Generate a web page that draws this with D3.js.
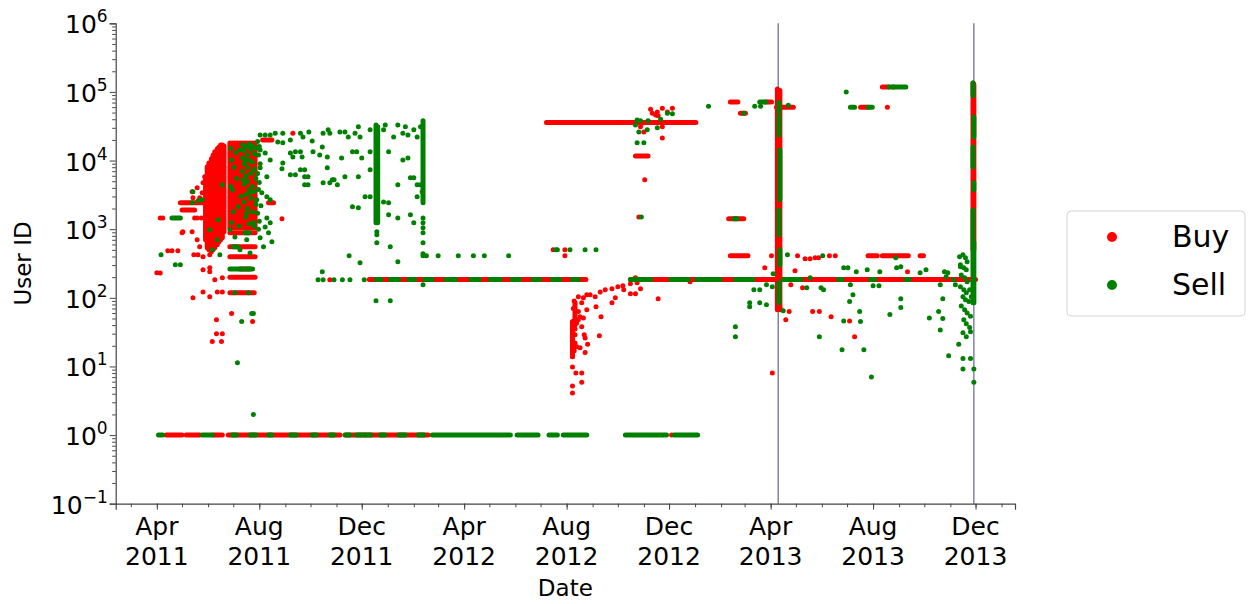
<!DOCTYPE html>
<html>
<head>
<meta charset="utf-8">
<script src="https://cdn.jsdelivr.net/npm/d3@7"></script>
<style>
  body { margin: 0; background: #fff; }
  svg { display: block; font-family: "DejaVu Sans", sans-serif; }
</style>
</head>
<body>
<div id="chart"></div>
<script>
// ---- data ----
const xDomain = ["2011-02-11", "2014-01-17"];
const yDomain = [0.1, 1e6];
const majorTicks = ["2011-04-01", "2011-08-01", "2011-12-01", "2012-04-01", "2012-08-01",
                    "2012-12-01", "2013-04-01", "2013-08-01", "2013-12-01"];
const tickMonths = ["Apr", "Aug", "Dec", "Apr", "Aug", "Dec", "Apr", "Aug", "Dec"];
const tickYears = ["2011", "2011", "2011", "2012", "2012", "2012", "2013", "2013", "2013"];
const yPowers = [-1, 0, 1, 2, 3, 4, 5, 6];
const eventDates = ["2013-04-10", "2013-11-29"];
const seriesNames = ["Buy", "Sell"];

// single trades [date, user id]
const buyPoints = [
  ["2011-04-01",232],["2011-04-05",230],["2011-04-05",1460],["2011-04-08",1460],
  ["2011-04-14",485],["2011-04-19",485],["2011-04-26",485],
  ["2011-05-01",886],["2011-05-02",916],["2011-05-13",916],
  ["2011-05-13",3500],["2011-05-19",4000],["2011-05-25",3390],["2011-05-26",4730],["2011-05-14",2860],
  ["2011-05-22",2860],["2011-05-28",5790],["2011-05-16",1460],["2011-05-19",1460],["2011-05-24",1460],
  ["2011-05-19",700],["2011-05-22",554],["2011-05-20",424],["2011-05-26",396],["2011-05-15",424],["2011-06-03",424],
  ["2011-05-26",256],["2011-06-03",240],["2011-06-03",274],["2011-06-09",183],["2011-06-18",196],
  ["2011-05-14",100],["2011-05-26",122],["2011-06-03",104],["2011-06-12",122],["2011-06-18",122],
  ["2011-06-11",48],["2011-06-11",30],["2011-06-18",30],["2011-06-06",23],["2011-06-17",23],
  ["2011-06-29",59],["2011-07-24",45],["2011-08-28",1420],["2011-09-10",25000],["2011-10-24",183],
  ["2012-07-16",501],["2012-07-30",501],["2012-07-30",410],
  ["2012-08-11",85],["2012-08-15",104],["2012-08-21",100],["2012-08-25",111],["2012-08-29",111],
  ["2012-09-04",104],["2012-09-10",122],["2012-09-16",131],["2012-09-24",135],["2012-10-01",145],
  ["2012-10-07",150],["2012-10-16",160],["2012-10-24",166],["2012-10-28",135],["2012-10-22",115],
  ["2012-10-16",115],["2012-10-08",131],["2012-09-28",100],["2012-09-24",85],["2012-09-05",74],
  ["2012-09-11",53],["2012-09-09",28],["2012-08-25",67],["2012-08-19",85],["2012-08-21",51],
  ["2012-08-19",38],["2012-08-22",29],["2012-08-23",26],["2012-08-26",21],["2012-08-23",15.9],
  ["2012-08-19",8.0],["2012-08-19",5.9],["2012-08-17",18.8],["2012-08-13",19.4],["2012-08-11",22],
  ["2012-08-08",13.9],["2012-08-08",9.8],["2012-08-08",5.2],["2012-08-08",4.1],["2012-08-12",8.0],
  ["2012-08-11",29],["2012-08-11",35],["2012-08-13",43],["2012-08-15",48],["2012-08-17",53],["2012-08-15",63],
  ["2012-08-09",70],["2012-08-10",90],["2012-08-09",30],["2012-08-10",17],
  ["2012-11-18",97],["2012-12-26",171],["2012-10-22",196],
  ["2012-11-09",56000],["2012-11-11",49000],["2012-11-15",46000],["2012-11-17",51000],["2012-11-18",45000],
  ["2012-11-23",58000],["2012-12-05",58000],["2012-11-29",51000],["2012-11-23",31000],["2012-11-23",21400],
  ["2012-10-30",35000],["2012-10-28",31000],["2012-11-01",26000],["2012-11-02",5240],["2012-10-26",1510],
  ["2013-04-02",410],["2013-05-03",410],["2013-05-12",371],["2013-05-18",371],["2013-05-24",383],
  ["2013-05-28",383],["2013-06-10",410],["2013-06-17",410],
  ["2013-03-25",274],["2013-04-30",248],["2013-09-11",240],["2013-04-09",283],["2013-04-25",155],
  ["2013-05-09",140],["2013-05-21",63],["2013-05-29",63],["2013-06-12",53],["2013-04-19",48],
  ["2013-04-23",63],["2013-04-12",72],["2013-04-03",8.0],["2013-07-04",46],["2013-07-10",27],
  ["2013-08-18",60000],["2013-08-25",118000]
];

const sellPoints = [
  ["2011-04-23",303],["2011-04-29",303],["2011-04-06",424],["2011-05-14",3500],["2011-05-13",2420],
  ["2011-05-25",2680],["2011-05-20",2600],["2011-06-18",4430],["2011-06-13",1370],["2011-06-03",980],
  ["2011-06-12",700],["2011-06-06",501],["2011-06-15",424],["2011-07-06",11.3],["2011-07-25",2.0],
  ["2011-07-11",45],["2011-07-23",59],["2011-07-25",59],
  ["2011-06-29",10200],["2011-07-09",14300],["2011-07-15",10200],["2011-07-21",15800],["2011-07-25",7320],
  ["2011-07-13",5240],["2011-06-30",3740],["2011-07-21",3390],["2011-07-07",2120],["2011-07-17",1720],
  ["2011-06-29",1240],["2011-07-25",1240],["2011-07-03",770],["2011-07-17",701],["2011-07-09",501],
  ["2011-07-21",450],["2011-06-27",980],["2011-07-29",2680],["2011-07-03",119],["2011-07-19",119],
  ["2011-06-28",15000],["2011-07-02",8000],["2011-07-05",5500],["2011-07-01",1800],["2011-07-08",1100],
  ["2011-07-04",13000],["2011-07-10",3000],["2011-06-28",4200],
  ["2011-07-12",17000],["2011-07-12",11000],["2011-07-12",7000],
  ["2011-07-14",14000],["2011-07-14",9000],["2011-07-14",4500],["2011-07-14",2500],
  ["2011-07-16",16000],["2011-07-16",6000],["2011-07-16",3200],["2011-07-16",1500],
  ["2011-07-18",12000],["2011-07-18",8000],["2011-07-18",5000],["2011-07-18",2000],
  ["2011-07-20",17500],["2011-07-20",10000],["2011-07-20",3800],["2011-07-20",1200],
  ["2011-07-22",14500],["2011-07-22",6500],["2011-07-22",2800],
  ["2011-07-24",16500],["2011-07-24",9500],["2011-07-24",4200],["2011-07-24",1800],
  ["2011-07-26",12500],["2011-07-26",7500],["2011-07-26",3500],["2011-07-26",1100],
  ["2011-07-28",15000],["2011-07-28",5500],["2011-07-28",2300],
  ["2011-07-30",19000],["2011-08-01",16000],["2011-07-31",12000],["2011-08-02",9000],["2011-07-30",6500],
  ["2011-08-01",4800],["2011-07-31",3800],["2011-08-03",2200],["2011-07-30",1700],["2011-08-01",1300],
  ["2011-07-31",1000],["2011-08-02",750],
  ["2011-08-02",23600],["2011-08-08",23600],["2011-08-14",23600],["2011-08-20",25000],["2011-08-29",25000],
  ["2011-08-23",18700],["2011-08-29",18100],["2011-09-07",20000],["2011-09-19",25000],["2011-09-22",22000],
  ["2011-09-29",26000],["2011-10-03",19300],["2011-10-16",25000],["2011-10-22",28000],["2011-10-24",25000],
  ["2011-11-05",26000],["2011-11-11",26000],["2011-11-15",22000],["2011-11-23",25000],["2011-11-27",31000],
  ["2011-11-29",22000],["2011-12-11",28000],["2011-12-27",28000],["2011-12-29",33000],["2012-01-08",22000],
  ["2012-01-13",33000],["2012-01-19",25000],["2012-01-22",31000],["2012-01-25",23600],["2012-02-01",28000],
  ["2012-02-05",22000],["2012-02-09",31000],
  ["2011-08-02",14300],["2011-08-08",12900],["2011-08-14",10200],["2011-08-02",7830],["2011-08-10",5790],
  ["2011-08-04",3390],["2011-08-10",2960],["2011-08-14",2680],["2011-08-10",1460],["2011-08-14",1240],
  ["2011-08-08",1080],["2011-08-12",886],["2011-08-06",554],["2011-08-16",655],
  ["2011-08-29",9250],["2011-08-28",7570],["2011-09-07",12900],["2011-09-13",13400],["2011-09-19",13400],
  ["2011-09-10",11300],["2011-09-21",11300],["2011-09-07",6190],["2011-09-13",6190],["2011-09-19",7320],
  ["2011-09-24",7320],["2011-09-24",5790],["2011-09-28",5790],["2011-09-24",4430],["2011-09-28",4430],
  ["2011-10-04",13400],["2011-10-12",12100],["2011-10-15",15800],["2011-10-21",11300],["2011-10-21",7830],
  ["2011-10-27",5240],["2011-10-16",4730],["2011-10-24",4730],["2011-11-02",4430],["2011-11-07",10900],
  ["2011-11-11",5790],["2011-11-20",13400],["2011-11-25",13400],["2011-11-27",5790],["2011-11-20",2120],
  ["2011-11-27",2050],["2011-12-05",2960],["2011-12-11",2960],["2011-12-11",7320],["2011-12-11",13400],
  ["2011-12-27",2500],["2012-01-02",2420],["2012-01-02",1620],["2012-01-13",1460],["2012-01-28",1620],
  ["2012-02-01",1240],["2012-01-19",10200],["2012-01-25",10900],["2012-01-28",5600],["2012-02-01",5600],
  ["2012-02-05",4430],["2012-02-09",4430],["2012-01-13",4430],["2012-02-05",2960],["2012-02-11",3500],
  ["2012-01-02",13400],["2012-01-04",554],["2011-10-29",5240],["2011-12-01",10900],
  ["2011-11-16",410],["2011-11-29",324],["2012-01-13",335],["2011-12-18",91],["2012-01-04",91],
  ["2011-10-10",183],["2011-10-16",183],["2011-10-15",240],["2011-10-29",183],["2011-11-08",183],
  ["2011-11-17",183],["2011-12-04",183],
  ["2011-12-19",916],["2011-12-19",828],["2011-12-19",634],
  ["2012-02-12",1460],["2012-02-12",1240],["2012-02-12",1050],["2012-02-12",886],["2012-02-12",634],
  ["2012-02-12",438],["2012-02-12",155],
  ["2012-02-12",410],["2012-02-16",410],["2012-03-01",410],["2012-03-25",410],["2012-04-12",410],
  ["2012-04-25",410],["2012-05-24",410],
  ["2012-07-19",501],["2012-07-21",501],["2012-08-05",501],["2012-08-23",501],["2012-09-05",501],
  ["2012-10-24",39000],["2012-10-28",38000],["2012-10-22",33000],["2012-10-26",26000],["2012-11-05",28000],
  ["2012-11-06",38000],["2012-11-17",30000],["2012-11-21",40000],["2012-11-29",49000],["2012-12-05",48000],
  ["2013-01-17",62000],["2012-10-24",18100],["2012-11-01",18100],["2012-10-29",1510],
  ["2013-02-28",49000],["2013-03-13",62000],["2013-03-20",62000],["2013-04-22",64000],["2013-06-30",100000],
  ["2013-04-21",424],["2013-06-02",410],["2013-06-27",274],["2013-07-02",274],["2013-07-12",240],
  ["2013-07-25",256],["2013-08-09",240],["2013-08-28",383],["2013-08-29",274],["2013-09-03",283],
  ["2013-09-26",232],["2013-10-03",256],["2013-03-12",131],["2013-03-19",131],["2013-03-07",85],
  ["2013-03-07",74],["2013-03-19",85],["2013-03-27",79],["2013-03-27",155],["2013-04-04",224],
  ["2013-04-03",145],["2013-05-14",140],["2013-05-18",196],["2013-05-31",140],["2013-06-03",131],
  ["2013-05-29",27],["2013-04-16",65],["2013-02-18",38],["2013-02-18",27],["2013-06-25",17.5],
  ["2013-06-27",46],["2013-07-05",155],["2013-07-08",111],["2013-07-04",88],["2013-07-16",63],
  ["2013-07-17",45],["2013-07-21",17.5],["2013-07-30",7.0],["2013-08-01",150],["2013-08-08",150],
  ["2013-08-21",57],["2013-09-03",97],["2013-09-03",72],["2013-10-07",51],["2013-10-18",63],
  ["2013-10-20",34],["2013-10-23",50],["2013-10-23",97],["2013-10-20",155],["2013-10-30",14.3],
  ["2013-11-11",21],["2013-11-16",13.0],["2013-11-16",9.2],["2013-11-25",13.0],["2013-11-29",9.2],
  ["2013-11-29",5.9],["2013-10-25",240],["2013-10-29",232],["2013-10-27",203],["2013-11-05",183],
  ["2013-11-07",155],["2013-11-13",283],
  ["2013-11-12",396],["2013-11-16",424],["2013-11-19",383],["2013-11-21",335],["2013-11-13",303],
  ["2013-11-17",274],["2013-11-20",256],["2013-11-14",215],["2013-11-18",196],["2013-11-21",171],
  ["2013-11-13",145],["2013-11-17",131],["2013-11-20",119],["2013-11-24",131],["2013-11-16",104],
  ["2013-11-19",94],["2013-11-23",88],["2013-11-26",104],["2013-11-14",76],["2013-11-18",67],
  ["2013-11-21",60],["2013-11-25",54],["2013-11-17",48],["2013-11-20",42],["2013-11-24",37],
  ["2013-11-16",31],["2013-11-20",27],["2013-11-25",32]
];

// dense horizontal runs of trades [first date, last date, user id]
const buyRuns = [
  ["2011-04-12","2011-05-01",1],["2011-05-06","2011-05-22",1],["2011-06-07","2011-06-18",1],
  ["2011-06-25","2011-11-05",1],["2011-11-12","2012-02-18",1],["2012-12-04","2012-12-04",1],
  ["2011-12-10","2012-08-24",185],["2012-10-16","2013-12-01",185],
  ["2012-07-08","2013-01-02",36000],
  ["2011-04-29","2011-05-29",2420],["2011-05-01","2011-05-16",1910],
  ["2011-08-05","2011-08-16",20000],["2011-08-12","2011-08-18",2420],
  ["2011-06-27","2011-07-27",886],["2011-06-27","2011-07-27",554],
  ["2011-06-27","2011-07-27",396],["2011-07-09","2011-07-21",262],["2011-06-27","2011-07-27",200],
  ["2011-06-27","2011-07-26",119],
  ["2012-10-22","2012-11-06",11700],
  ["2013-02-12","2013-02-21",71300],["2013-02-24","2013-03-02",49000],["2013-03-26","2013-04-02",71300],
  ["2013-04-08","2013-04-28",60000],["2013-02-10","2013-02-28",1420],["2013-02-12","2013-03-05",410],
  ["2013-07-26","2013-08-06",410],["2013-08-12","2013-09-12",410],["2013-09-26","2013-09-30",410],
  ["2013-07-17","2013-07-26",60000],["2013-08-12","2013-08-19",118000]
];

const sellRuns = [
  ["2011-04-03","2011-04-08",1],["2011-05-25","2011-06-06",1],["2011-06-30","2011-07-05",1],
  ["2011-07-21","2011-07-28",1],["2011-08-12","2011-08-16",1],["2011-09-07","2011-09-14",1],
  ["2011-10-03","2011-10-08",1],["2011-10-24","2011-10-29",1],["2011-11-11","2011-11-17",1],
  ["2011-11-25","2011-12-12",1],["2011-12-23","2011-12-29",1],["2012-01-14","2012-01-22",1],
  ["2012-02-06","2012-02-13",1],["2012-02-23","2012-05-26",1],["2012-06-03","2012-06-28",1],
  ["2012-07-11","2012-07-21",1],["2012-07-28","2012-08-25",1],["2012-10-10","2012-11-28",1],
  ["2012-12-07","2013-01-04",1],
  ["2011-12-18","2011-12-24",185],["2012-01-04","2012-01-14",185],["2012-01-26","2012-02-02",185],
  ["2012-02-14","2012-02-23",185],["2012-03-10","2012-03-22",185],["2012-04-09","2012-04-19",185],
  ["2012-05-02","2012-05-14",185],["2012-05-28","2012-06-06",185],["2012-06-22","2012-06-30",185],
  ["2012-07-15","2012-07-24",185],["2012-08-08","2012-08-15",185],["2012-10-16","2012-11-09",185],
  ["2012-12-03","2012-12-24",185],["2013-01-03","2013-01-31",185],["2013-02-18","2013-03-11",185],
  ["2013-04-16","2013-05-07",185],["2013-06-21","2013-06-25",185],["2013-07-29","2013-08-03",185],
  ["2013-09-09","2013-09-13",185],
  ["2011-04-19","2011-04-29",1460],["2011-06-27","2011-07-24",262],["2011-07-15","2011-07-20",886],
  ["2011-07-01","2011-07-06",554],
  ["2013-02-16","2013-02-20",1420],["2013-03-19","2013-03-26",71300],
  ["2013-07-05","2013-07-10",60000],["2013-07-26","2013-07-31",60000],["2013-08-20","2013-09-09",118000]
];

// dense vertical bands of trades [date, lowest id, highest id]
const buyBands = [
  ["2011-05-29",701,5600],["2011-05-31",536,8090],["2011-06-02",501,9250],["2011-06-05",469,10600],
  ["2011-06-07",501,12100],["2011-06-09",536,13400],["2011-06-12",593,14800],["2011-06-14",655,15800],
  ["2011-06-16",701,16900],["2011-06-18",750,16900],["2011-06-20",916,16300],
  ["2011-06-27",1050,18000],["2011-06-30",1050,18000],["2011-07-03",1050,18000],["2011-07-06",1050,18000],
  ["2011-07-09",1050,18000],["2011-07-12",1050,18000],["2011-07-15",1050,18000],["2011-07-18",1050,18000],
  ["2011-07-21",1050,18000],["2011-07-24",1050,18000],["2011-07-27",1050,18000],
  ["2012-08-08",14,45],["2012-08-11",40,80],
  ["2013-04-09",67,110000],["2013-04-12",67,105000],
  ["2013-11-28",500,135000],["2013-11-29",500,128000]
];

const sellBands = [
  ["2011-12-18",1240,33000],["2011-12-20",1240,31000],["2012-02-12",2420,38000],
  ["2013-04-11",50000,70000],["2013-04-11",23600,43000],["2013-04-12",2680,14300],["2013-04-11",828,1910],
  ["2013-04-12",303,501],["2013-04-11",85,166],
  ["2013-11-28",88000,135000],["2013-11-29",22000,43000],["2013-11-28",8090,15800],
  ["2013-11-29",3740,4730],["2013-11-28",85,1910],["2013-11-29",85,634]
];

// ---- drawing ----
const W = 1248, H = 604;
const margin = { left: 115.7, right: 233, top: 23.3, bottom: 100.3 };
const innerW = W - margin.left - margin.right;
const innerH = H - margin.top - margin.bottom;
const parse = d3.timeParse("%Y-%m-%d");
const colors = { Buy: "#ff0000", Sell: "#008000" };
const dotR = 2.5;

const svg = d3.select("#chart").append("svg")
  .attr("width", W)
  .attr("height", H);

const x = d3.scaleTime()
  .domain(xDomain.map(parse))
  .range([margin.left, margin.left + innerW]);

const y = d3.scaleLog()
  .domain(yDomain)
  .range([margin.top + innerH, margin.top]);

// event lines sit behind the trades
svg.append("g").selectAll("line")
  .data(eventDates)
  .join("line")
  .attr("x1", d => x(parse(d)))
  .attr("x2", d => x(parse(d)))
  .attr("y1", margin.top)
  .attr("y2", margin.top + innerH)
  .attr("stroke", "#6f6f9e")
  .attr("stroke-width", 1.3);

function drawSeries(points, runs, bands, color) {
  const g = svg.append("g");
  g.selectAll("line.band")
    .data(bands)
    .join("line")
    .attr("class", "band")
    .attr("x1", d => x(parse(d[0])))
    .attr("x2", d => x(parse(d[0])))
    .attr("y1", d => y(d[1]))
    .attr("y2", d => y(d[2]))
    .attr("stroke", color)
    .attr("stroke-width", dotR * 2)
    .attr("stroke-linecap", "round");

  g.selectAll("line.run")
    .data(runs)
    .join("line")
    .attr("class", "run")
    .attr("x1", d => x(parse(d[0])))
    .attr("x2", d => x(parse(d[1])))
    .attr("y1", d => y(d[2]))
    .attr("y2", d => y(d[2]))
    .attr("stroke", color)
    .attr("stroke-width", dotR * 2)
    .attr("stroke-linecap", "round");

  g.selectAll("circle")
    .data(points)
    .join("circle")
    .attr("cx", d => x(parse(d[0])))
    .attr("cy", d => y(d[1]))
    .attr("r", dotR)
    .attr("fill", color);
}

drawSeries(buyPoints, buyRuns, buyBands, colors.Buy);
drawSeries(sellPoints, sellRuns, sellBands, colors.Sell);

// x axis
const xAxis = svg.append("g")
  .attr("transform", `translate(0,${margin.top + innerH})`);

xAxis.append("g")
  .call(d3.axisBottom(x)
    .tickValues(d3.timeMonth.range(x.domain()[0], x.domain()[1]))
    .tickSize(3.5)
    .tickFormat(""))
  .call(g => g.select(".domain").remove());

const xMajor = xAxis.append("g")
  .call(d3.axisBottom(x)
    .tickValues(majorTicks.map(parse))
    .tickSize(6)
    .tickFormat(""));

xMajor.select(".domain").attr("stroke", "#444").attr("stroke-width", 1.2);
xAxis.selectAll(".tick line").attr("stroke", "#444").attr("stroke-width", 1);

const xLabels = xAxis.append("g")
  .selectAll("text")
  .data(majorTicks)
  .join("text")
  .attr("x", d => x(parse(d)))
  .attr("text-anchor", "middle")
  .attr("font-size", 25)
  .attr("fill", "#000");
xLabels.append("tspan").attr("x", d => x(parse(d))).attr("y", 31.5).text((d, i) => tickMonths[i]);
xLabels.append("tspan").attr("x", d => x(parse(d))).attr("y", 61.5).text((d, i) => tickYears[i]);

// y axis
const yAxis = svg.append("g")
  .attr("transform", `translate(${margin.left},0)`);

yAxis.append("g")
  .call(d3.axisLeft(y)
    .tickValues(y.ticks().filter(v => Math.abs(Math.log10(v) - Math.round(Math.log10(v))) > 1e-6))
    .tickSize(3.5)
    .tickFormat(""))
  .call(g => g.select(".domain").remove());

const yMajor = yAxis.append("g")
  .call(d3.axisLeft(y)
    .tickValues(yPowers.map(p => Math.pow(10, p)))
    .tickSize(6)
    .tickFormat(""));
yMajor.select(".domain").attr("stroke", "#444").attr("stroke-width", 1.2);
yAxis.selectAll(".tick line").attr("stroke", "#444").attr("stroke-width", 1);

const yLabels = yAxis.append("g")
  .selectAll("text")
  .data(yPowers)
  .join("text")
  .attr("x", -8)
  .attr("y", p => y(Math.pow(10, p)) + 10)
  .attr("text-anchor", "end")
  .attr("font-size", 25)
  .attr("fill", "#000");
yLabels.append("tspan").text("10");
yLabels.append("tspan")
  .attr("dy", -11)
  .attr("font-size", 17)
  .text(p => p < 0 ? "\u2212" + Math.abs(p) : String(p));

// axis titles
svg.append("text")
  .attr("x", margin.left + innerW / 2)
  .attr("y", 596)
  .attr("text-anchor", "middle")
  .attr("font-size", 23)
  .text("Date");

svg.append("text")
  .attr("transform", `translate(31,${margin.top + innerH / 2}) rotate(-90)`)
  .attr("text-anchor", "middle")
  .attr("font-size", 23)
  .text("User ID");

// legend
const legend = svg.append("g").attr("transform", "translate(1067,211)");
legend.append("rect")
  .attr("width", 178)
  .attr("height", 105)
  .attr("rx", 4)
  .attr("fill", "#fff")
  .attr("stroke", "#d5d5d5")
  .attr("stroke-width", 1);

const items = legend.selectAll("g.item")
  .data(seriesNames)
  .join("g")
  .attr("class", "item")
  .attr("transform", (d, i) => `translate(0,${26 + i * 48})`);
items.append("circle")
  .attr("cx", 45)
  .attr("r", 5)
  .attr("fill", d => colors[d]);
items.append("text")
  .attr("x", 105)
  .attr("y", 10)
  .attr("font-size", 30)
  .attr("fill", "#000")
  .text(d => d);
</script>
</body>
</html>
